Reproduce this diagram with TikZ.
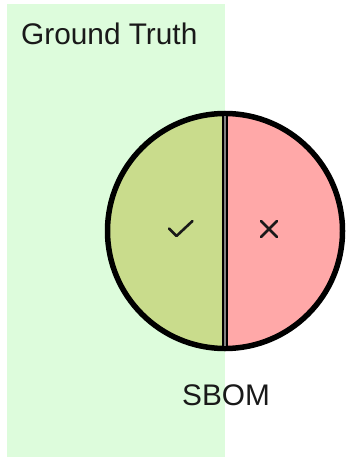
\documentclass[tikz,border=0pt]{standalone}
\usepackage{fontspec}
\setmainfont{Liberation Sans}
\definecolor{truthbg}{HTML}{DDFCDC}
\definecolor{hitfill}{HTML}{C9DC8C}
\definecolor{missfill}{HTML}{FFA8A8}
\definecolor{seam}{HTML}{808080}
\begin{document}
\begin{tikzpicture}[x=1pt,y=-1pt,
  label/.style={font=\fontsize{29.8}{32}\selectfont, text=black!90, inner sep=0pt},
  glyphline/.style={line width=2.6pt, line cap=round, line join=round, black!90}]
\useasboundingbox (0,0) rectangle (345,457);
% ground-truth region
\fill[truthbg] (7,4) rectangle (225,457);
\node[label, anchor=base west] (gt) at (21,45) {Ground Truth};
% SBOM circle, split into matched and unmatched halves
\coordinate (c) at (225,231);
\fill[hitfill] (225,113.5) arc[start angle=-90, end angle=-270, radius=117.5] -- cycle;
\fill[missfill] (225,113.5) arc[start angle=-90, end angle=90, radius=117.5] -- cycle;
\draw[line width=5.5pt] (c) circle[radius=117.5];
\draw[line width=6.5pt] (225,113.5) -- (225,348.5);
\draw[seam, line width=1.4pt] (225,116) -- (225,346);
% check and cross marks
\draw[glyphline] (169,228.5) -- (176.5,236) -- (192.5,221);
\draw[glyphline] (261,221) -- (277,237) (277,221) -- (261,237);
\node[label, anchor=base] (sbom) at (226,405) {SBOM};
\end{tikzpicture}
\end{document}
